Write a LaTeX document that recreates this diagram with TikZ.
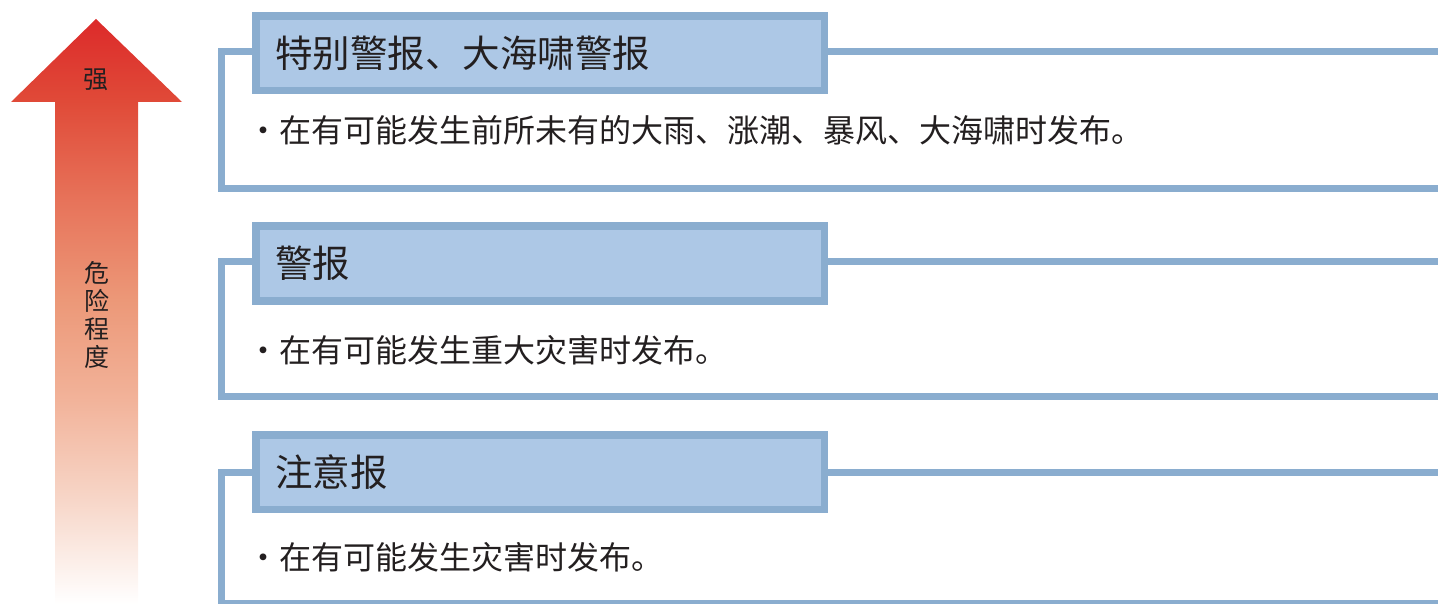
\documentclass[tikz,border=0pt]{standalone}
\usepackage{fontspec}
\setmainfont{Noto Sans CJK SC}
\definecolor{frameblue}{HTML}{8AADCF}
\definecolor{headfill}{HTML}{ADC8E6}
\definecolor{textdark}{HTML}{231F20}
\definecolor{ar0}{HTML}{DC2A2A}
\definecolor{ar1}{HTML}{E04A38}
\definecolor{ar2}{HTML}{E7735A}
\definecolor{ar3}{HTML}{EC9878}
\definecolor{ar4}{HTML}{F2B39A}
\definecolor{ar5}{HTML}{F7D6C8}
\pgfdeclareverticalshading{arrowshade}{100bp}{color(0bp)=(white); color(25bp)=(white); color(33.9bp)=(ar5); color(42.4bp)=(ar4); color(51bp)=(ar3); color(59.5bp)=(ar2); color(68bp)=(ar1); color(75bp)=(ar0); color(100bp)=(ar0)}
\begin{document}
\begin{tikzpicture}[x=1pt,y=-1pt,
  frame/.style={draw=frameblue, line width=7pt, line join=miter},
  header/.style={draw=frameblue, fill=headfill, line width=7.5pt, minimum width=568.5pt, minimum height=74.5pt, inner sep=0pt},
  headtext/.style={anchor=west, inner sep=0pt, font=\fontsize{37.5}{40}\selectfont, text=textdark},
  bodytext/.style={anchor=west, inner sep=0pt, font=\fontsize{32}{34}\selectfont, text=textdark},
  sidelabel/.style={inner sep=0pt, align=center, font=\fontsize{25}{28}\selectfont, text=textdark}]
\useasboundingbox (0,0) rectangle (1438,604);

% gradient arrow
\shade[shading=arrowshade] (96,19) -- (182,102) -- (138,102) -- (138,604) -- (55,604) -- (55,102) -- (11,102) -- cycle;
\node[sidelabel] (strong) at (96,80) {强};
\node[sidelabel] (degree) at (97,315) {危\\险\\程\\度};

% box 1
\node[header] (h1) at (540,53.5) {};
\coordinate (c1a) at (221,52);
\coordinate (c1b) at (221,189);
\coordinate (c1c) at (1445,189);
\coordinate (c1d) at (1445,52);
\draw[frame] (h1.west |- c1a) -- (c1a) -- (c1b) -- (c1c);
\draw[frame] (h1.east |- c1d) -- (c1d);
\node[headtext] (t1) at (275,53.5) {特别警报、大海啸警报};
\node[bodytext] (b1) at (247,130) {・在有可能发生前所未有的大雨、涨潮、暴风、大海啸时发布。};

% box 2
\node[header] (h2) at (540,263.5) {};
\coordinate (c2a) at (221,262);
\coordinate (c2b) at (221,396);
\coordinate (c2c) at (1445,396);
\coordinate (c2d) at (1445,262);
\draw[frame] (h2.west |- c2a) -- (c2a) -- (c2b) -- (c2c);
\draw[frame] (h2.east |- c2d) -- (c2d);
\node[headtext] (t2) at (275,263.5) {警报};
\node[bodytext] (b2) at (247,350) {・在有可能发生重大灾害时发布。};

% box 3
\node[header] (h3) at (540,472) {};
\coordinate (c3a) at (221,472);
\coordinate (c3b) at (221,603);
\coordinate (c3c) at (1445,603);
\coordinate (c3d) at (1445,472);
\draw[frame] (h3.west |- c3a) -- (c3a) -- (c3b) -- (c3c);
\draw[frame] (h3.east |- c3d) -- (c3d);
\node[headtext] (t3) at (275,472) {注意报};
\node[bodytext] (b3) at (247,557) {・在有可能发生灾害时发布。};
\end{tikzpicture}
\end{document}
